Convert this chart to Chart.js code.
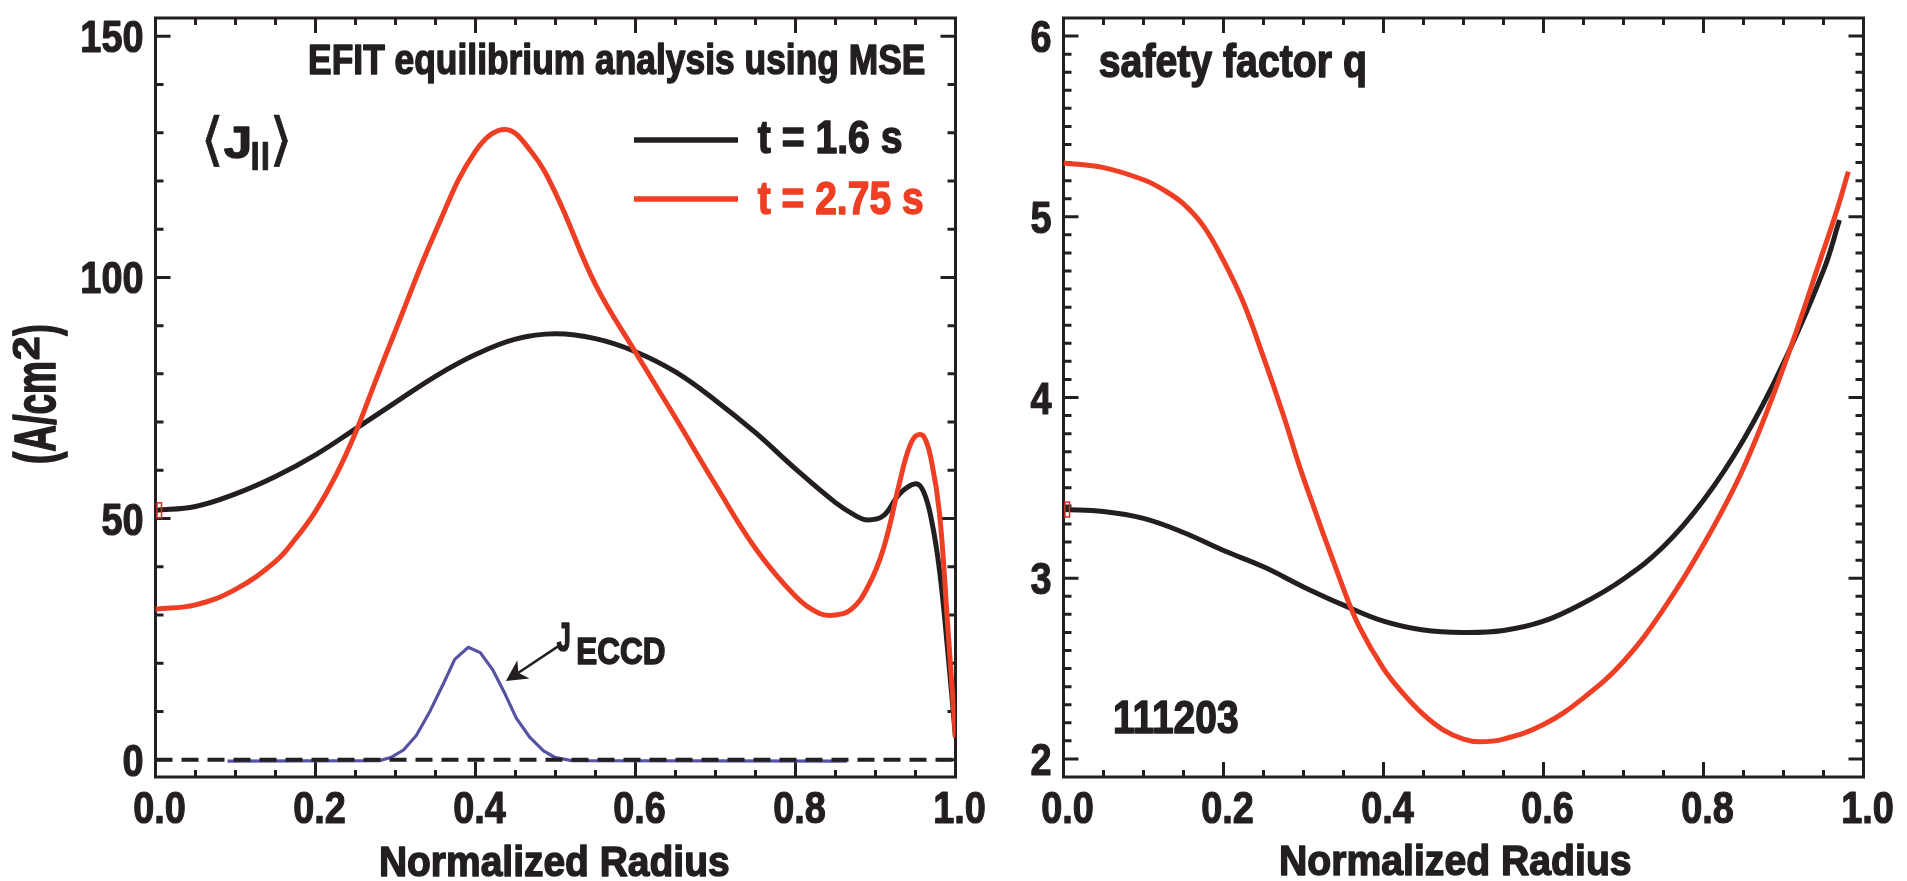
<!DOCTYPE html>
<html><head><meta charset="utf-8"><title>EFIT equilibrium analysis using MSE</title>
<script src="https://cdn.jsdelivr.net/npm/chart.js@4.4.1/dist/chart.umd.min.js"></script>
<style>
html,body{margin:0;padding:0;background:#fff;}
body{width:1907px;height:881px;position:relative;overflow:hidden;}
canvas{position:absolute;top:0;}
#cJ{left:0;} #cQ{left:990px;}
</style></head><body>
<canvas id="cJ" width="990" height="881" style="width:990px;height:881px"></canvas>
<canvas id="cQ" width="917" height="881" style="width:917px;height:881px"></canvas>
<script>
// ---------- data ----------
const xTickLabels = [0.0, 0.2, 0.4, 0.6, 0.8, 1.0];
const jTickLabels = [0, 50, 100, 150];
const qTickLabels = [2, 3, 4, 5, 6];

// <J||> at t = 1.6 s (A/cm^2)
const jBlackR = [0, 0.05, 0.1, 0.15, 0.2, 0.25, 0.3, 0.35, 0.4, 0.45, 0.5, 0.55, 0.6, 0.65, 0.7, 0.75, 0.8, 0.85, 0.875, 0.89, 0.91, 0.93, 0.95, 0.96, 0.97, 0.98, 0.99, 1.0];
const jBlackV = [51.7, 52.5, 55.1, 58.7, 63.2, 68.6, 74.1, 79.5, 84.0, 87.2, 88.3, 87.3, 84.6, 80.4, 74.5, 67.8, 60.3, 53.3, 50.6, 49.7, 50.6, 55.1, 57.2, 55.6, 49.7, 39.3, 23.1, 4.6];

// <J||> at t = 2.75 s
const jRedR = [0, 0.05, 0.1, 0.15, 0.175, 0.2, 0.225, 0.25, 0.275, 0.3, 0.35, 0.4, 0.437, 0.47, 0.5, 0.55, 0.6, 0.65, 0.7, 0.75, 0.8, 0.83, 0.85, 0.87, 0.89, 0.91, 0.93, 0.94, 0.95, 0.96, 0.97, 0.98, 0.99, 1.0];
const jRedV = [31.2, 32.1, 35.3, 41.1, 45.8, 51.5, 58.8, 67.8, 78.5, 89.0, 109.5, 126.2, 130.7, 126.0, 117.5, 98.5, 84.5, 70.9, 57.0, 43.8, 33.9, 30.3, 30.0, 31.2, 35.7, 43.8, 57.4, 63.7, 67.1, 67.1, 61.9, 51.1, 28.5, 4.6];

// J_ECCD
const eccdR = [0.09, 0.28, 0.295, 0.310, 0.326, 0.343, 0.360, 0.374, 0.391, 0.406, 0.422, 0.437, 0.451, 0.468, 0.485, 0.499, 0.52, 0.864];
const eccdV = [-0.3, -0.2, 0.5, 2.0, 5.0, 10.0, 15.8, 20.8, 23.3, 22.2, 18.5, 13.6, 8.6, 4.6, 1.8, 0.5, -0.2, -0.3];

// zero reference line
const zeroR = [0, 1];
const zeroV = [0, 0];

// safety factor q at t = 1.6 s
const qBlackR = [0, 0.05, 0.1, 0.15, 0.2, 0.25, 0.3, 0.35, 0.4, 0.45, 0.5, 0.55, 0.6, 0.65, 0.7, 0.75, 0.8, 0.85, 0.9, 0.95, 0.97];
const qBlackV = [3.380, 3.369, 3.331, 3.253, 3.153, 3.063, 2.952, 2.851, 2.762, 2.713, 2.700, 2.711, 2.762, 2.863, 2.996, 3.175, 3.431, 3.766, 4.190, 4.703, 4.982];

// safety factor q at t = 2.75 s
const qRedR = [0, 0.05, 0.1, 0.125, 0.15, 0.175, 0.2, 0.225, 0.25, 0.275, 0.3, 0.35, 0.37, 0.4, 0.425, 0.45, 0.475, 0.5, 0.52, 0.55, 0.6, 0.65, 0.7, 0.75, 0.8, 0.85, 0.9, 0.95, 0.967, 0.981];
const qRedV = [5.298, 5.272, 5.205, 5.149, 5.071, 4.948, 4.757, 4.524, 4.223, 3.900, 3.554, 2.941, 2.729, 2.500, 2.360, 2.245, 2.160, 2.110, 2.095, 2.110, 2.190, 2.338, 2.539, 2.829, 3.186, 3.610, 4.167, 4.814, 5.040, 5.250];

// annotation anchor (data units): arrow to J_ECCD
const eccdArrowTail = [0.506, 23.8];
const eccdArrowTip = [0.438, 16.3];

// ---------- styles ----------
const INK = '#231f20', RED = '#ee3f24', BLUE = '#5653a2';
const BF = "bold 44px 'Liberation Sans', Arial, sans-serif";

const pts = (xs, ys) => xs.map((x, i) => ({x: x, y: ys[i]}));
function minorTicks(lo, hi, step, majors) {
  const out = [];
  for (let k = Math.ceil(lo / step - 1e-9); k * step <= hi + 1e-9; k++) {
    const v = +(k * step).toFixed(6);
    if (!majors.some(m => Math.abs(m - v) < 1e-6)) out.push(v);
  }
  return out;
}

function fitBox(ctx, text, font, color, x0, y0, x1, y1, heavy) {
  heavy = heavy === undefined ? 1.4 : heavy;
  ctx.save();
  ctx.font = font; ctx.fillStyle = color; ctx.strokeStyle = color;
  ctx.textAlign = 'left'; ctx.textBaseline = 'alphabetic'; ctx.lineJoin = 'round';
  const m = ctx.measureText(text);
  const bw = m.actualBoundingBoxLeft + m.actualBoundingBoxRight;
  const bh = m.actualBoundingBoxAscent + m.actualBoundingBoxDescent;
  const sx = (x1 - x0 - heavy) / bw, sy = (y1 - y0 - heavy) / bh;
  ctx.translate(x0 + heavy / 2 + m.actualBoundingBoxLeft * sx, y0 + heavy / 2 + m.actualBoundingBoxAscent * sy);
  ctx.scale(sx, sy);
  ctx.fillText(text, 0, 0);
  if (heavy > 0) { ctx.lineWidth = heavy / ((sx + sy) / 2); ctx.strokeText(text, 0, 0); }
  ctx.restore();
}

// condensed bold label at a baseline
function condLabel(ctx, text, x, yBase, align) {
  ctx.save();
  ctx.font = "bold 44px 'Liberation Sans', Arial, sans-serif";
  ctx.fillStyle = INK; ctx.strokeStyle = INK; ctx.lineJoin = 'round';
  ctx.textAlign = align; ctx.textBaseline = 'alphabetic';
  ctx.translate(x, yBase); ctx.scale(0.86, 1);
  ctx.fillText(text, 0, 0);
  ctx.lineWidth = 1.2; ctx.strokeText(text, 0, 0);
  ctx.restore();
}

function makeFrame(xMajor, xMinor, yMajor, yMinor, markerValue) {
  return {
    id: 'frame',
    beforeDatasetsDraw(chart) {
      const ctx = chart.ctx, a = chart.chartArea, xs = chart.scales.x, ys = chart.scales.y;
      ctx.save();
      ctx.strokeStyle = INK; ctx.lineWidth = 3; ctx.lineCap = 'butt';
      ctx.beginPath();
      const tx = (v, len) => { const p = xs.getPixelForValue(v); ctx.moveTo(p, a.bottom); ctx.lineTo(p, a.bottom - len); ctx.moveTo(p, a.top); ctx.lineTo(p, a.top + len); };
      const ty = (v, len) => { const p = ys.getPixelForValue(v); ctx.moveTo(a.left, p); ctx.lineTo(a.left + len, p); ctx.moveTo(a.right, p); ctx.lineTo(a.right - len, p); };
      xMajor.forEach(v => tx(v, 15)); xMinor.forEach(v => tx(v, 7));
      yMajor.forEach(v => ty(v, 15)); yMinor.forEach(v => ty(v, 8));
      ctx.stroke();
      ctx.strokeRect(a.left, a.top, a.right - a.left, a.bottom - a.top);
      ctx.restore();
      // tick labels, positioned by the chart's own scales
      xs.ticks.forEach(t => condLabel(ctx, Number(t.value).toFixed(1), xs.getPixelForValue(t.value) + 4, 822.5, 'center'));
      ys.ticks.forEach(t => condLabel(ctx, String(t.value), a.left - 12, ys.getPixelForValue(t.value) + 16, 'right'));
    },
    afterDatasetsDraw(chart) {
      const ctx = chart.ctx, a = chart.chartArea, ys = chart.scales.y;
      const p = ys.getPixelForValue(markerValue);
      ctx.save(); ctx.strokeStyle = '#e8242b'; ctx.lineWidth = 1.5;
      ctx.strokeRect(a.left + 1.5, p - 7.5, 4.5, 15);
      ctx.restore();
    }
  };
}

function baseOptions(yMin, yMax, yTicks, yWidth, padRight) {
  return {
    responsive: false, animation: false, events: [],
    layout: {padding: {top: 18, right: padRight, left: 0, bottom: 0}},
    plugins: {legend: {display: false}, tooltip: {enabled: false}},
    elements: {point: {radius: 0}, line: {borderCapStyle: 'butt', borderJoinStyle: 'round'}},
    scales: {
      x: {
        type: 'linear', min: 0, max: 1,
        afterBuildTicks: s => { s.ticks = xTickLabels.map(v => ({value: v})); },
        afterFit: s => { s.height = 104; s.paddingLeft = 0; s.paddingRight = 0; },
        ticks: {display: false, autoSkip: false},
        grid: {display: false, drawTicks: false}, border: {display: false}
      },
      y: {
        type: 'linear', min: yMin, max: yMax,
        afterBuildTicks: s => { s.ticks = yTicks.map(v => ({value: v})); },
        afterFit: s => { s.width = yWidth; s.paddingTop = 0; s.paddingBottom = 0; },
        ticks: {display: false, autoSkip: false},
        grid: {display: false, drawTicks: false}, border: {display: false}
      }
    }
  };
}

// ---------- left chart: <J||> ----------
const xMinor = minorTicks(0, 1, 0.05, xTickLabels);
const jText = {
  id: 'jtext',
  afterDraw(chart) {
    const ctx = chart.ctx, xs = chart.scales.x, ys = chart.scales.y;
    fitBox(ctx, 'EFIT equilibrium analysis using MSE', BF, INK, 309, 42, 925, 83);
    // legend
    ctx.save(); ctx.lineWidth = 5.5; ctx.lineCap = 'butt';
    ctx.strokeStyle = INK; ctx.beginPath(); ctx.moveTo(634, 140); ctx.lineTo(738, 140); ctx.stroke();
    ctx.strokeStyle = RED; ctx.beginPath(); ctx.moveTo(634, 199); ctx.lineTo(738, 199); ctx.stroke();
    ctx.restore();
    fitBox(ctx, 't = 1.6 s', BF, INK, 757, 120, 902, 153.5);
    fitBox(ctx, 't = 2.75 s', BF, RED, 757, 181, 923, 214.5);
    // <J||>
    const AF = "36px 'DejaVu Sans', sans-serif";
    fitBox(ctx, '\u27E8', AF, INK, 205, 113, 221, 167, 0.6);
    fitBox(ctx, 'J', BF, INK, 223, 126, 250, 158.5);
    fitBox(ctx, '||', BF, INK, 252, 142, 268, 172, 0.8);
    fitBox(ctx, '\u27E9', AF, INK, 272, 113, 288, 167, 0.6);
    // y axis title, rotated
    ctx.save(); ctx.rotate(-Math.PI / 2);
    fitBox(ctx, '(A/cm', BF, INK, -463, 13, -362, 67);
    fitBox(ctx, '2', BF, INK, -360, 13, -337, 40);
    fitBox(ctx, ')', BF, INK, -336.5, 13, -325, 67);
    ctx.restore();
    // x axis title
    fitBox(ctx, 'Normalized Radius', BF, INK, 380, 844, 729, 876.5);
    // J_ECCD label and arrow
    fitBox(ctx, 'J', BF, INK, 556, 622, 570, 652);
    fitBox(ctx, 'ECCD', BF, INK, 577, 638, 665, 665);
    const t0x = xs.getPixelForValue(eccdArrowTail[0]), t0y = ys.getPixelForValue(eccdArrowTail[1]);
    const t1x = xs.getPixelForValue(eccdArrowTip[0]), t1y = ys.getPixelForValue(eccdArrowTip[1]);
    const dx = t1x - t0x, dy = t1y - t0y, L = Math.hypot(dx, dy), ux = dx / L, uy = dy / L;
    const hl = 21, hw = 11, notch = 15;
    ctx.save(); ctx.strokeStyle = INK; ctx.fillStyle = INK; ctx.lineWidth = 2.5;
    ctx.beginPath(); ctx.moveTo(t0x, t0y); ctx.lineTo(t1x - ux * notch, t1y - uy * notch); ctx.stroke();
    ctx.beginPath();
    ctx.moveTo(t1x, t1y);
    ctx.lineTo(t1x - ux * hl - uy * hw, t1y - uy * hl + ux * hw);
    ctx.lineTo(t1x - ux * notch, t1y - uy * notch);
    ctx.lineTo(t1x - ux * hl + uy * hw, t1y - uy * hl - ux * hw);
    ctx.closePath(); ctx.fill();
    ctx.restore();
  }
};

new Chart(document.getElementById('cJ'), {
  type: 'line',
  data: {datasets: [
    {label: 'zero', data: pts(zeroR, zeroV), borderColor: INK, borderWidth: 4, borderDash: [17, 9], tension: 0, order: 0},
    {label: 'J_ECCD', data: pts(eccdR, eccdV), borderColor: BLUE, borderWidth: 3.2, tension: 0, order: 1},
    {label: 't = 2.75 s', data: pts(jRedR, jRedV), borderColor: RED, borderWidth: 5, tension: 0.4, order: 2},
    {label: 't = 1.6 s', data: pts(jBlackR, jBlackV), borderColor: INK, borderWidth: 5, tension: 0.4, order: 3}
  ]},
  options: baseOptions(-3.6, 153.8, jTickLabels, 155.5, 34.5),
  plugins: [makeFrame(xTickLabels, xMinor, jTickLabels, minorTicks(0, 150, 10, jTickLabels), jBlackV[0]), jText]
});

// ---------- right chart: safety factor q ----------
const OFF = 990;
const qText = {
  id: 'qtext',
  afterDraw(chart) {
    const ctx = chart.ctx;
    fitBox(ctx, 'safety factor q', BF, INK, 1099 - OFF, 43, 1365 - OFF, 87);
    fitBox(ctx, '111203', BF, INK, 1114 - OFF, 700, 1238 - OFF, 734);
    fitBox(ctx, 'Normalized Radius', BF, INK, 1280 - OFF, 844, 1631 - OFF, 876);
  }
};

new Chart(document.getElementById('cQ'), {
  type: 'line',
  data: {datasets: [
    {label: 't = 2.75 s', data: pts(qRedR, qRedV), borderColor: RED, borderWidth: 5, tension: 0.4, order: 1},
    {label: 't = 1.6 s', data: pts(qBlackR, qBlackV), borderColor: INK, borderWidth: 5, tension: 0.4, order: 2}
  ]},
  options: baseOptions(1.9, 6.1, qTickLabels, 73.5, 43.5),
  plugins: [makeFrame(xTickLabels, xMinor, qTickLabels, minorTicks(2, 6, 0.1, qTickLabels), qBlackV[0]), qText]
});
</script>
</body></html>
